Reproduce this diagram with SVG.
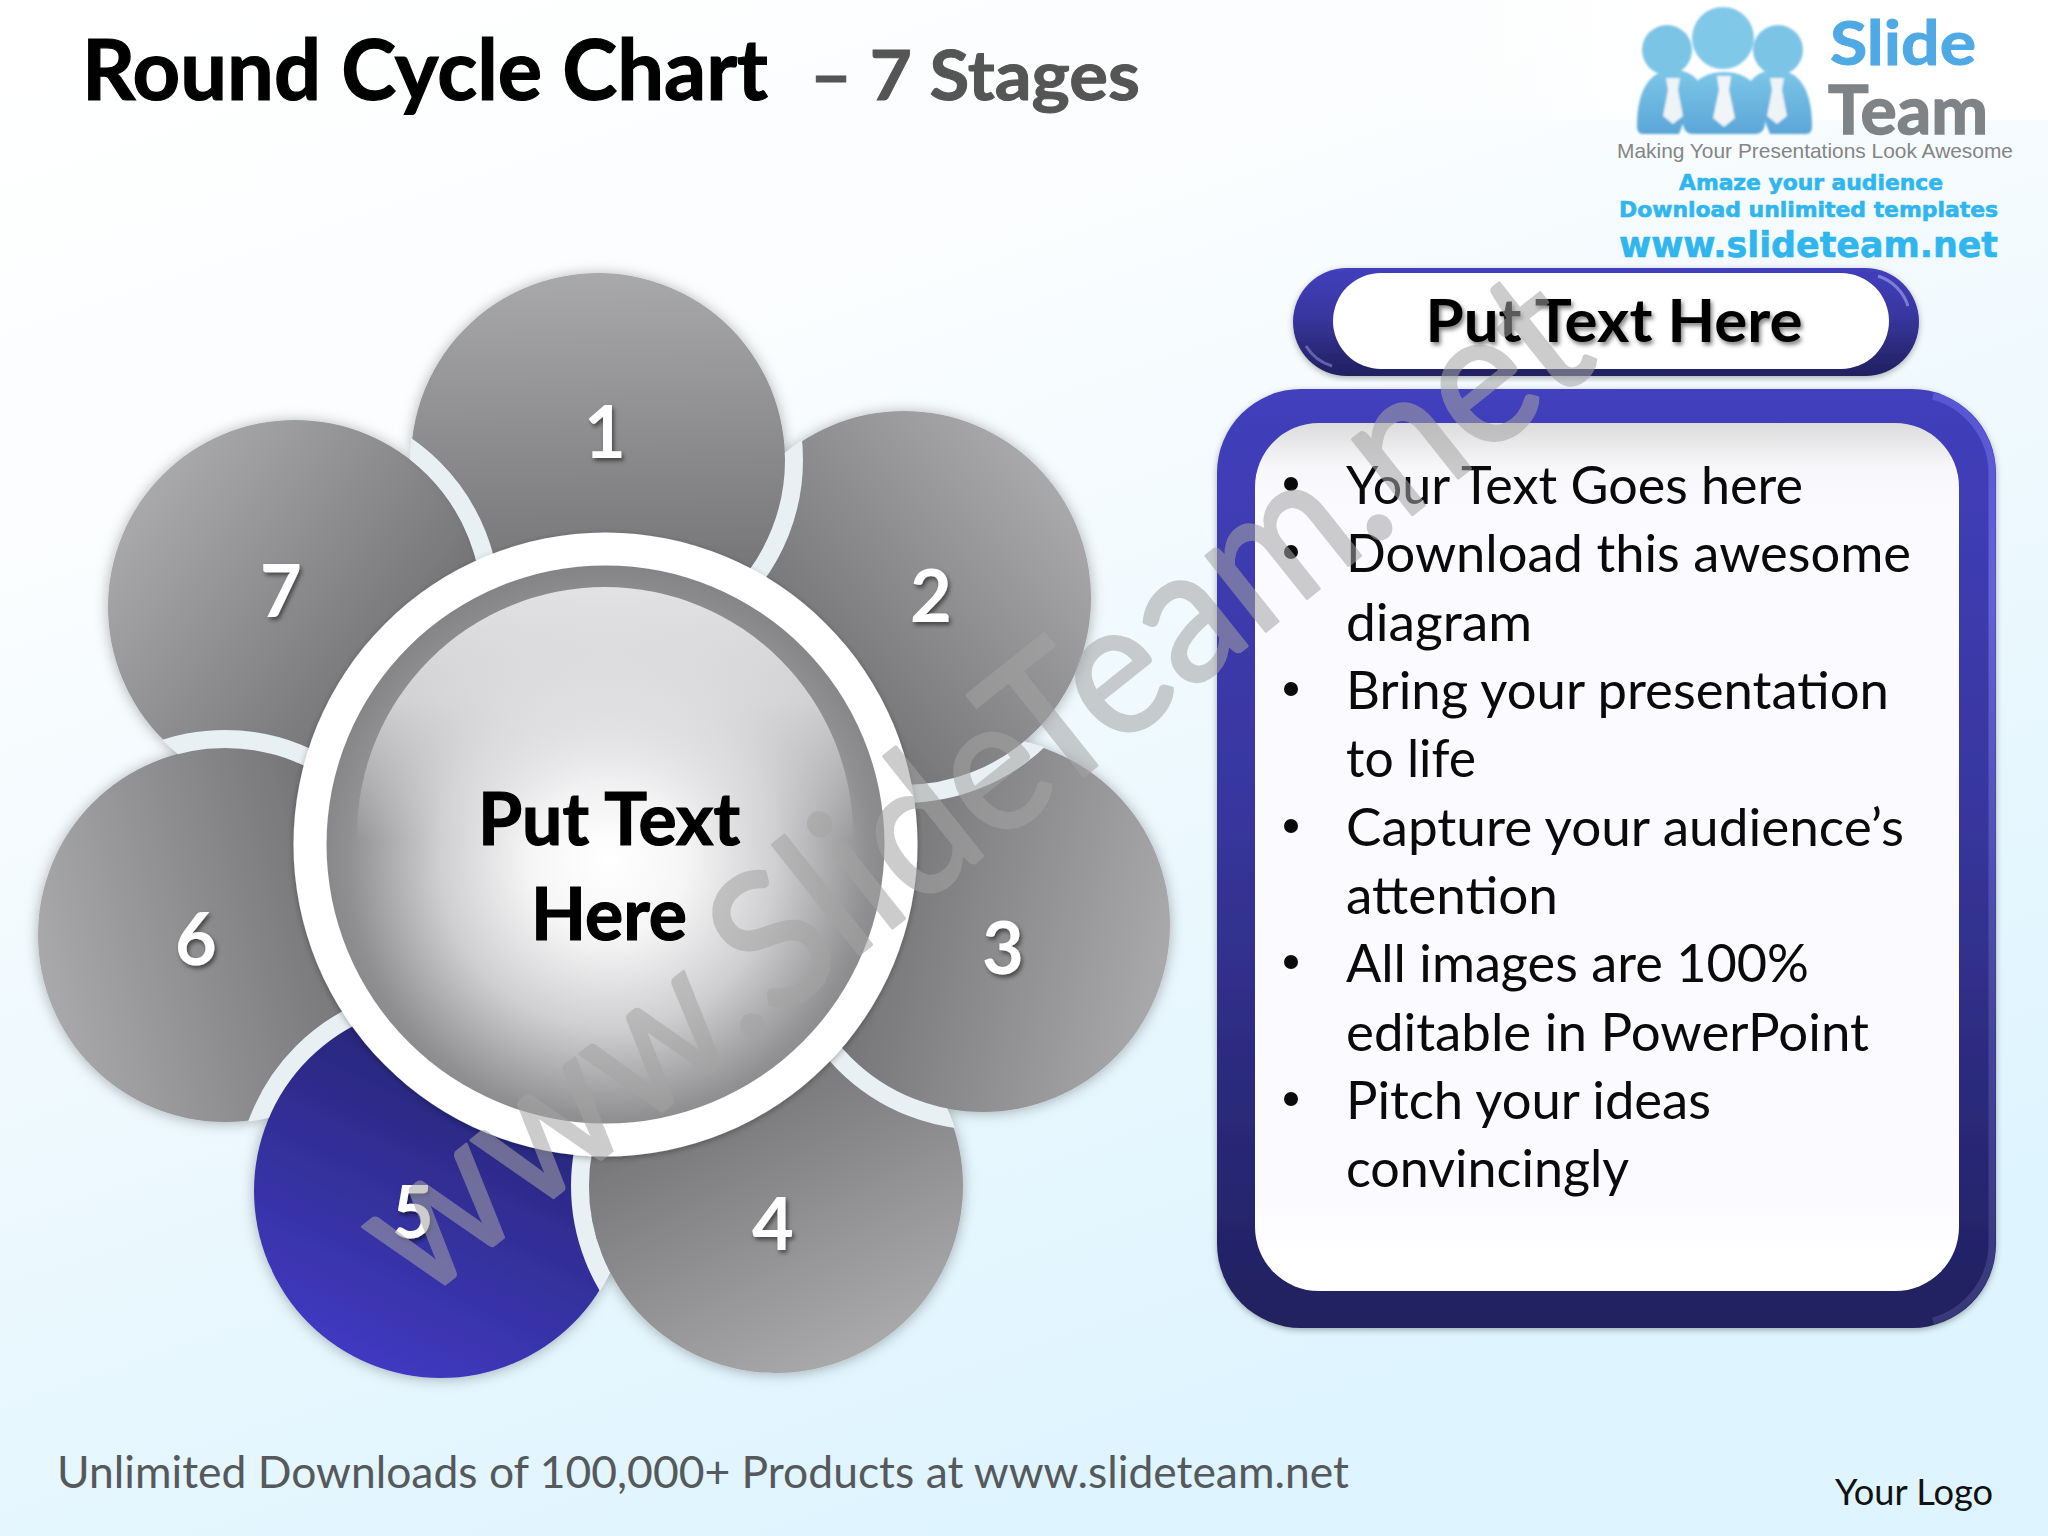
<svg xmlns="http://www.w3.org/2000/svg" width="2048" height="1536" viewBox="0 0 2048 1536">
<style>
text{font-family:"Lato","Open Sans","Liberation Sans",sans-serif}
.num{font-size:72px;font-weight:700;fill:#fff;text-anchor:middle;filter:url(#txt)}
.ring{stroke:#e8f0f3;stroke-width:18;fill:none}
.petal{filter:url(#sh)}
.li{font-size:52px;fill:#0a0a0a}
.bu{fill:#0a0a0a}
.bold{stroke:#000;stroke-width:1.2}
</style>
<defs>
<linearGradient id="bg" x1="0" y1="0" x2="0.45" y2="1"><stop offset="0" stop-color="#fff"/><stop offset=".3" stop-color="#fbfdfe"/><stop offset="1" stop-color="#def4fe"/></linearGradient>
<linearGradient id="logoBg" x1="0" y1="0" x2="1" y2="0"><stop offset="0" stop-color="#fff" stop-opacity="0"/><stop offset=".4" stop-color="#fff"/></linearGradient>
<linearGradient id="p1" gradientUnits="userSpaceOnUse" x1="595" y1="273" x2="601" y2="647"><stop offset="0" stop-color="#a9a9ab"/><stop offset="1" stop-color="#69696b"/></linearGradient>
<linearGradient id="p2" gradientUnits="userSpaceOnUse" x1="1048" y1="478" x2="760" y2="718"><stop offset="0" stop-color="#a9a9ab"/><stop offset="1" stop-color="#69696b"/></linearGradient>
<linearGradient id="p3" gradientUnits="userSpaceOnUse" x1="1166" y1="964" x2="800" y2="886"><stop offset="0" stop-color="#a9a9ab"/><stop offset="1" stop-color="#69696b"/></linearGradient>
<linearGradient id="p4" gradientUnits="userSpaceOnUse" x1="860" y1="1353" x2="692" y2="1019"><stop offset="0" stop-color="#a9a9ab"/><stop offset="1" stop-color="#69696b"/></linearGradient>
<linearGradient id="p5" gradientUnits="userSpaceOnUse" x1="361" y1="1360" x2="521" y2="1022"><stop offset="0" stop-color="#4039c0"/><stop offset="1" stop-color="#23236c"/></linearGradient>
<linearGradient id="p6" gradientUnits="userSpaceOnUse" x1="43" y1="979" x2="407" y2="891"><stop offset="0" stop-color="#a9a9ab"/><stop offset="1" stop-color="#69696b"/></linearGradient>
<linearGradient id="p7" gradientUnits="userSpaceOnUse" x1="146" y1="493" x2="444" y2="721"><stop offset="0" stop-color="#a9a9ab"/><stop offset="1" stop-color="#69696b"/></linearGradient>
<radialGradient id="disc" gradientUnits="userSpaceOnUse" cx="608" cy="860" r="350"><stop offset="0" stop-color="#fff"/><stop offset=".22" stop-color="#f6f6f7"/><stop offset=".48" stop-color="#cfcfd1"/><stop offset=".74" stop-color="#909092"/><stop offset="1" stop-color="#717174"/></radialGradient>
<linearGradient id="hl" gradientUnits="userSpaceOnUse" x1="605" y1="587" x2="605" y2="840"><stop offset="0" stop-color="#e2e1e4"/><stop offset=".45" stop-color="#e2e1e4" stop-opacity=".8"/><stop offset="1" stop-color="#e8e8ea" stop-opacity="0"/></linearGradient>
<linearGradient id="frame" x1="0" y1="0" x2="0" y2="1"><stop offset="0" stop-color="#423fbd"/><stop offset=".45" stop-color="#38369e"/><stop offset="1" stop-color="#20205f"/></linearGradient>
<linearGradient id="edge" gradientUnits="userSpaceOnUse" x1="0" y1="400" x2="0" y2="1320"><stop offset="0" stop-color="#5e5cd8"/><stop offset=".2" stop-color="#6e6ce0"/><stop offset=".7" stop-color="#4a4aa0"/><stop offset="1" stop-color="#3e3e80"/></linearGradient>
<linearGradient id="inner" x1="0" y1="0" x2="0" y2="1"><stop offset="0" stop-color="#dcdcdc"/><stop offset=".05" stop-color="#f7f6f9"/><stop offset=".1" stop-color="#fbfaff"/><stop offset=".9" stop-color="#fbfaff"/><stop offset=".96" stop-color="#fff"/></linearGradient>
<linearGradient id="logoB" x1="0" y1="0" x2="0" y2="1"><stop offset="0" stop-color="#7cc6e8"/><stop offset="1" stop-color="#5ba6d8"/></linearGradient>
<filter id="sh" x="-15%" y="-15%" width="130%" height="130%"><feDropShadow dx="0" dy="1" stdDeviation="7" flood-color="#000" flood-opacity=".3"/></filter>
<filter id="sh2" x="-5%" y="-5%" width="110%" height="110%"><feDropShadow dx="0" dy="2" stdDeviation="3" flood-color="#000" flood-opacity=".3"/></filter>
<filter id="txt" x="-20%" y="-20%" width="140%" height="140%"><feDropShadow dx="2" dy="3" stdDeviation="2" flood-color="#000" flood-opacity=".5"/></filter>
<filter id="b1" x="-5%" y="-5%" width="110%" height="110%"><feGaussianBlur stdDeviation=".8"/></filter>
<clipPath id="c1"><circle cx="598" cy="460" r="188"/></clipPath>
<clipPath id="c2"><circle cx="904" cy="598" r="188"/></clipPath>
<clipPath id="c3"><circle cx="983" cy="925" r="188"/></clipPath>
<clipPath id="c4"><circle cx="776" cy="1186" r="188"/></clipPath>
<clipPath id="c5"><circle cx="441" cy="1191" r="188"/></clipPath>
<clipPath id="c6"><circle cx="225" cy="935" r="188"/></clipPath>
<clipPath id="c7"><circle cx="295" cy="607" r="188"/></clipPath>
</defs>

<rect id="background" width="2048" height="1536" fill="url(#bg)"/>
<rect x="1400" y="0" width="648" height="120" fill="url(#logoBg)"/>

<g id="title">
<text x="82" y="100" font-size="84" font-weight="700" fill="#000" class="bold" textLength="686" lengthAdjust="spacingAndGlyphs">Round Cycle Chart</text>
<text x="810" y="100" font-size="68" font-weight="700" fill="#555" stroke="#555" stroke-width="1" textLength="330" lengthAdjust="spacingAndGlyphs">– 7 Stages</text>
</g>

<g id="logo">
<g filter="url(#b1)">
<path d="M1637 126c0-38 14-56 36-56 12 0 20 4 26 12l-20 52h-36c-4 0-6-3-6-8z" fill="url(#logoB)"/>
<path d="M1812 126c0-38-14-56-36-56-12 0-20 4-26 12l20 52h36c4 0 6-3 6-8z" fill="url(#logoB)"/>
<circle cx="1667" cy="50" r="25" fill="#7cc4e6"/>
<circle cx="1778" cy="50" r="25" fill="#7cc4e6"/>
<circle cx="1723" cy="38" r="31" fill="#80c8e8"/>
<path d="M1683 122c0-34 16-50 41-50s41 16 41 50c0 8-4 12-10 12h-62c-6 0-10-4-10-12z" fill="url(#logoB)"/>
<path d="M1666 78h14l-2 12 5 26-10 8-10-8 5-26z" fill="#eef3f6"/>
<path d="M1770 78h14l-2 12 5 26-10 8-10-8 5-26z" fill="#eef3f6"/>
<path d="M1717 76h14l-2 14 6 28-11 9-11-9 6-28z" fill="#f2f5f7"/>
</g>
<text x="1830" y="65" font-size="62" font-weight="700" fill="#4fa9e4" stroke="#4fa9e4" textLength="146" lengthAdjust="spacingAndGlyphs">Slide</text>
<text x="1828" y="134" font-size="66" font-weight="700" fill="#808386" stroke="#808386" stroke-width="1.5" textLength="160" lengthAdjust="spacingAndGlyphs">Team</text>
<text x="1617" y="158" font-size="21" style="font-family:'Liberation Sans',sans-serif" fill="#858585" textLength="396" lengthAdjust="spacingAndGlyphs">Making Your Presentations Look Awesome</text>
<g style="font-weight:700" fill="#2fb6ee" stroke="#2fb6ee" stroke-width=".6">
<text x="1679" y="190" font-size="21" style="font-family:'DejaVu Sans',sans-serif" textLength="264" lengthAdjust="spacingAndGlyphs">Amaze your audience</text>
<text x="1619" y="217" font-size="21" style="font-family:'DejaVu Sans',sans-serif" textLength="379" lengthAdjust="spacingAndGlyphs">Download unlimited templates</text>
<text x="1619" y="257" font-size="35" style="font-family:'DejaVu Sans',sans-serif" textLength="379" lengthAdjust="spacingAndGlyphs">www.slideteam.net</text>
</g>
</g>

<g id="connectors"/>

<g id="petal-7"><circle cx="295" cy="607" r="187" fill="url(#p7)" class="petal"/><text class="num" x="281" y="617">7</text></g>
<g id="petal-6"><circle cx="225" cy="935" r="187" fill="url(#p6)" class="petal"/><circle cx="225" cy="935" r="196" class="ring" clip-path="url(#c7)"/><text class="num" x="196" y="965">6</text></g>
<g id="petal-5"><circle cx="441" cy="1191" r="187" fill="url(#p5)" class="petal"/><circle cx="441" cy="1191" r="196" class="ring" clip-path="url(#c6)"/><text class="num" x="413" y="1238">5</text></g>
<g id="petal-4"><circle cx="776" cy="1186" r="187" fill="url(#p4)" class="petal"/><circle cx="776" cy="1186" r="196" class="ring" clip-path="url(#c5)"/><text class="num" x="773" y="1250">4</text></g>
<g id="petal-3"><circle cx="983" cy="925" r="187" fill="url(#p3)" class="petal"/><circle cx="983" cy="925" r="196" class="ring" clip-path="url(#c4)"/><text class="num" x="1003" y="974">3</text></g>
<g id="petal-2"><circle cx="904" cy="598" r="187" fill="url(#p2)" class="petal"/><circle cx="904" cy="598" r="196" class="ring" clip-path="url(#c3)"/><text class="num" x="931" y="622">2</text></g>
<g id="petal-1"><path d="M411.3 449.3A187 187 0 1 1 490.9 613.3A196 196 0 0 0 411.3 449.3Z" fill="url(#p1)" class="petal"/><circle cx="598" cy="460" r="196" class="ring" clip-path="url(#c2)"/><circle cx="295" cy="607" r="196" class="ring" clip-path="url(#c1)"/><text class="num" x="605" y="458">1</text></g>

<g id="center">
<circle cx="605.5" cy="844.5" r="312" fill="#fff" filter="url(#sh2)"/>
<circle cx="605.5" cy="844.5" r="279" fill="url(#disc)"/>
<circle cx="605" cy="835" r="248" fill="url(#hl)"/>
<text x="609" y="845" font-size="72" font-weight="700" fill="#000" class="bold" text-anchor="middle" textLength="262" lengthAdjust="spacingAndGlyphs">Put Text</text>
<text x="609" y="940" font-size="72" font-weight="700" fill="#000" class="bold" text-anchor="middle" textLength="156" lengthAdjust="spacingAndGlyphs">Here</text>
</g>

<g id="header">
<rect x="1293" y="268" width="626" height="108" rx="54" fill="url(#frame)" filter="url(#sh2)"/>
<path d="M1878 276A46 46 0 0 1 1908 306" fill="none" stroke="#9a98e6" stroke-width="3" opacity=".7"/>
<path d="M1306 346A46 46 0 0 0 1332 366" fill="none" stroke="#8a88d8" stroke-width="3" opacity=".6"/>
<rect x="1333" y="273" width="556" height="96" rx="48" fill="#fff"/>
<text x="1614" y="342" font-size="60" font-weight="700" fill="#000" text-anchor="middle" filter="url(#txt)" textLength="377" lengthAdjust="spacingAndGlyphs">Put Text Here</text>
</g>

<g id="panel">
<rect x="1217" y="389" width="779" height="939" rx="84" fill="url(#frame)" filter="url(#sh2)"/>
<path d="M1933 396A80 80 0 0 1 1992 473V1244A80 80 0 0 1 1933 1321" stroke="url(#edge)" stroke-width="7" fill="none" opacity=".8"/>
<rect x="1255" y="423" width="704" height="868" rx="64" fill="url(#inner)"/>
<g class="bu"><circle cx="1291" cy="484" r="7"/><circle cx="1291" cy="552" r="7"/><circle cx="1291" cy="689" r="7"/><circle cx="1291" cy="826" r="7"/><circle cx="1291" cy="962" r="7"/><circle cx="1291" cy="1099" r="7"/></g>
<text class="li" x="1346" y="504" textLength="457" lengthAdjust="spacingAndGlyphs">Your Text Goes here</text>
<text class="li" x="1346" y="572" textLength="565" lengthAdjust="spacingAndGlyphs">Download this awesome</text>
<text class="li" x="1346" y="641" textLength="186" lengthAdjust="spacingAndGlyphs">diagram</text>
<text class="li" x="1346" y="709" textLength="543" lengthAdjust="spacingAndGlyphs">Bring your presentation</text>
<text class="li" x="1346" y="777" textLength="130" lengthAdjust="spacingAndGlyphs">to life</text>
<text class="li" x="1346" y="846" textLength="558" lengthAdjust="spacingAndGlyphs">Capture your audience’s</text>
<text class="li" x="1346" y="914" textLength="212" lengthAdjust="spacingAndGlyphs">attention</text>
<text class="li" x="1346" y="982" textLength="463" lengthAdjust="spacingAndGlyphs">All images are 100%</text>
<text class="li" x="1346" y="1051" textLength="523" lengthAdjust="spacingAndGlyphs">editable in PowerPoint</text>
<text class="li" x="1346" y="1119" textLength="365" lengthAdjust="spacingAndGlyphs">Pitch your ideas</text>
<text class="li" x="1346" y="1187" textLength="283" lengthAdjust="spacingAndGlyphs">convincingly</text>
</g>

<g id="footer">
<text x="57" y="1488" font-size="44" fill="#55595c" textLength="1292" lengthAdjust="spacingAndGlyphs">Unlimited Downloads of 100,000+ Products at www.slideteam.net</text>
<text x="1835" y="1505" font-size="36" fill="#111" textLength="158" lengthAdjust="spacingAndGlyphs">Your Logo</text>
</g>

<g id="watermark" opacity=".55">
<text transform="translate(420 1304) rotate(-38.5)" font-size="190" fill="#a4a4a4" stroke="#a4a4a4" stroke-width="3" stroke-linejoin="round" textLength="1510" lengthAdjust="spacingAndGlyphs">www.SlideTeam.net</text>
</g>
</svg>
